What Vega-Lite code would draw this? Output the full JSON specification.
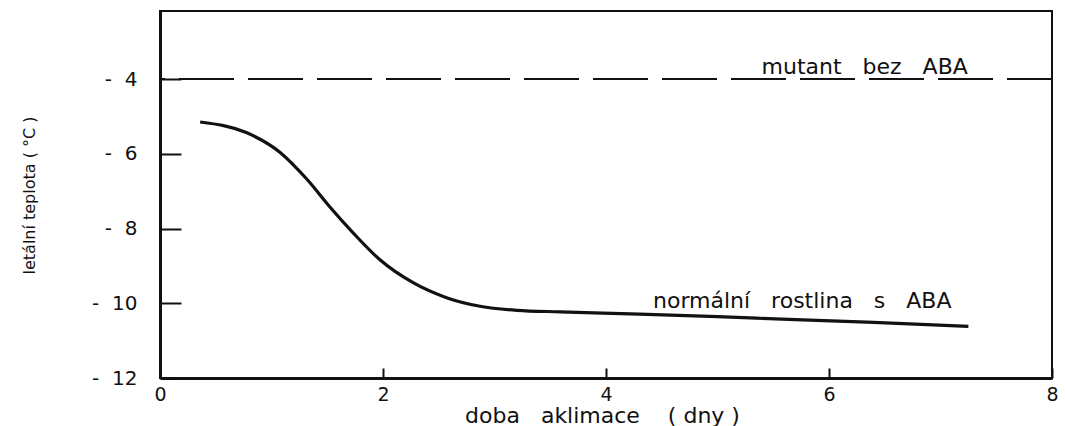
{
  "$schema": "https://vega.github.io/schema/vega-lite/v6.json",
  "width": 892,
  "height": 367,
  "autosize": {"type": "none"},
  "padding": {"left": 160, "top": 11, "right": 13, "bottom": 48},
  "background": "white",
  "config": {
    "view": {"stroke": "#111", "strokeWidth": 2},
    "axis": {
      "grid": false,
      "domainColor": "#111",
      "domainWidth": 3,
      "tickColor": "#111",
      "tickWidth": 2,
      "labelColor": "#111",
      "titleColor": "#111",
      "labelFont": "DejaVu Sans",
      "titleFont": "DejaVu Sans",
      "titleFontWeight": "normal"
    }
  },
  "datasets": {
    "curve": [
      {"x": 0.36, "y": -5.15},
      {"x": 0.78, "y": -5.44},
      {"x": 1.08, "y": -5.97},
      {"x": 1.32, "y": -6.69},
      {"x": 1.52, "y": -7.41},
      {"x": 1.73, "y": -8.11},
      {"x": 1.97, "y": -8.83},
      {"x": 2.27, "y": -9.45},
      {"x": 2.57, "y": -9.85},
      {"x": 2.87, "y": -10.08},
      {"x": 3.2, "y": -10.19},
      {"x": 3.59, "y": -10.23},
      {"x": 4.3, "y": -10.29},
      {"x": 5.0, "y": -10.36},
      {"x": 5.7, "y": -10.44},
      {"x": 6.4, "y": -10.51},
      {"x": 7.25, "y": -10.62}
    ],
    "mutant": [{"x": 0, "x2": 8, "y": -4}],
    "labels": [
      {"x": 6.32, "y": -3.68, "label": "mutant\u00a0\u00a0 bez\u00a0\u00a0 ABA"},
      {"x": 5.76, "y": -9.95, "label": "normální\u00a0\u00a0 rostlina\u00a0\u00a0 s\u00a0\u00a0 ABA"}
    ]
  },
  "encoding": {
    "x": {
      "field": "x",
      "type": "quantitative",
      "scale": {"domain": [0, 8], "nice": false},
      "axis": {
        "values": [0, 2, 4, 6, 8],
        "tickSize": -10,
        "labelPadding": 17,
        "labelFontSize": 19,
        "labelFlush": false,
        "title": "doba\u00a0\u00a0 aklimace\u00a0\u00a0\u00a0 (\u00a0dny\u00a0)",
        "titleFontSize": 22,
        "titleX": 442,
        "titleY": 37,
        "titleBaseline": "middle",
        "titleAlign": "center"
      }
    },
    "y": {
      "field": "y",
      "type": "quantitative",
      "scale": {"domain": [-12, -2.18], "nice": false},
      "axis": {
        "values": [-4, -6, -8, -10, -12],
        "tickSize": -21,
        "labelPadding": 44,
        "labelFontSize": 20,
        "labelFlush": false,
        "labelExpr": "'-\u00a0\u00a0' + abs(datum.value)",
        "title": "letální teplota ( °C )",
        "titleFontSize": 16,
        "titleX": -131,
        "titleY": 184,
        "titleBaseline": "middle",
        "titleAlign": "center"
      }
    }
  },
  "layer": [
    {
      "data": {"name": "mutant"},
      "mark": {"type": "rule", "strokeDash": [55, 14], "strokeDashOffset": 50, "strokeWidth": 2, "color": "#111"},
      "encoding": {"x2": {"field": "x2"}}
    },
    {
      "data": {"name": "curve"},
      "mark": {"type": "line", "interpolate": "monotone", "strokeWidth": 3.2, "color": "#111"},
      "encoding": {}
    },
    {
      "data": {"name": "labels"},
      "mark": {"type": "text", "align": "center", "baseline": "middle", "font": "DejaVu Sans", "fontSize": 22, "color": "#111"},
      "encoding": {"text": {"field": "label"}}
    }
  ]
}
